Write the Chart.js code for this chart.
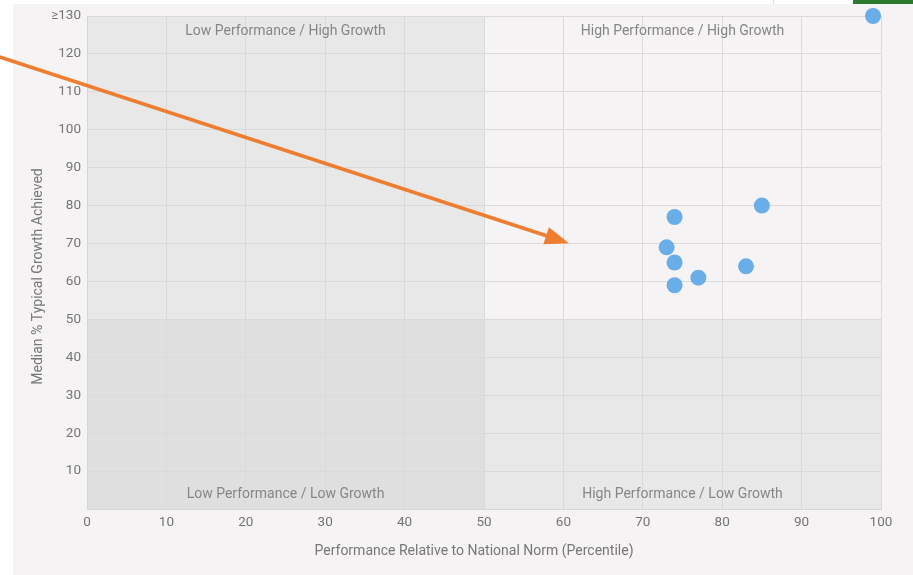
<!DOCTYPE html>
<html>
<head>
<meta charset="utf-8">
<script src="https://cdn.jsdelivr.net/npm/chart.js@4.4.1/dist/chart.umd.min.js"></script>
<style>
  html, body { margin: 0; padding: 0; background: #ffffff; }
  #wrap { position: relative; width: 913px; height: 575px; }
</style>
</head>
<body>
<div id="wrap"><canvas id="c" width="913" height="575"></canvas></div>
<script>
// ---- data ----
const performance = [99, 85, 74, 73, 74, 77, 83, 74];
const growth      = [130, 80, 77, 69, 65, 61, 64, 59];
const xTicks = [0, 10, 20, 30, 40, 50, 60, 70, 80, 90, 100];
const yTickLabels = { 130: '\u2265130' };
const quadrantLabels = [
  'Low Performance / High Growth',
  'High Performance / High Growth',
  'Low Performance / Low Growth',
  'High Performance / Low Growth'
];
const xTitle = 'Performance Relative to National Norm (Percentile)';
const yTitle = 'Median % Typical Growth Achieved';
const arrowFrom = [-11, 119.2];
const arrowTo = [60.7, 70.1];
const xSplit = 50;
const ySplit = 50;

const points = performance.map((x, i) => ({ x: x, y: growth[i] }));

const FONT = 'Roboto, "Liberation Sans", sans-serif';

const decor = {
  id: 'decor',
  beforeDraw(chart) {
    const ctx = chart.ctx;
    const xs = chart.scales.x, ys = chart.scales.y;
    const a = chart.chartArea;
    ctx.save();
    // panel
    ctx.fillStyle = '#f5f3f4';
    ctx.fillRect(13, 4, 900, 571);
    // top-right widgets
    ctx.fillStyle = '#ffffff';
    ctx.fillRect(773, 0, 80, 4);
    ctx.fillStyle = '#dddddd';
    ctx.fillRect(773, 0, 1, 4);
    ctx.fillStyle = '#2b7a2d';
    ctx.fillRect(853, 0, 60, 4);
    // quadrants
    const mx = xs.getPixelForValue(xSplit);
    const my = ys.getPixelForValue(ySplit);
    ctx.fillStyle = '#e8e8e8';
    ctx.fillRect(a.left, a.top, mx - a.left, my - a.top);
    ctx.fillStyle = '#f5f3f4';
    ctx.fillRect(mx, a.top, a.right - mx, my - a.top);
    ctx.fillStyle = '#dfdfdf';
    ctx.fillRect(a.left, my, mx - a.left, a.bottom - my);
    ctx.fillStyle = '#e8e8e8';
    ctx.fillRect(mx, my, a.right - mx, a.bottom - my);
    ctx.restore();
  },
  beforeDatasetsDraw(chart) {
    const ctx = chart.ctx;
    const xs = chart.scales.x;
    const a = chart.chartArea;
    const lx = xs.getPixelForValue(xSplit / 2);
    const rx = xs.getPixelForValue((xSplit + 100) / 2);
    ctx.save();
    ctx.font = '14px ' + FONT;
    ctx.fillStyle = '#868686';
    ctx.textAlign = 'center';
    ctx.textBaseline = 'middle';
    ctx.fillText(quadrantLabels[0], lx, a.top + 15);
    ctx.fillText(quadrantLabels[1], rx, a.top + 15);
    ctx.fillText(quadrantLabels[2], lx, a.bottom - 15);
    ctx.fillText(quadrantLabels[3], rx, a.bottom - 15);
    // axis titles
    ctx.font = '14px ' + FONT;
    ctx.fillStyle = '#777777';
    ctx.fillText(xTitle, (a.left + a.right) / 2 - 10, a.bottom + 42);
    ctx.translate(38, (a.top + a.bottom) / 2 + 14);
    ctx.rotate(-Math.PI / 2);
    ctx.fillText(yTitle, 0, 0);
    ctx.restore();
  },
  afterDraw(chart) {
    const ctx = chart.ctx;
    const xs = chart.scales.x, ys = chart.scales.y;
    const x0 = xs.getPixelForValue(arrowFrom[0]);
    const y0 = ys.getPixelForValue(arrowFrom[1]);
    const x1 = xs.getPixelForValue(arrowTo[0]);
    const y1 = ys.getPixelForValue(arrowTo[1]);
    const dx = x1 - x0, dy = y1 - y0;
    const len = Math.hypot(dx, dy);
    const ux = dx / len, uy = dy / len;
    const px = -uy, py = ux;
    const headLen = 24, headHalf = 9;
    const bx = x1 - ux * headLen, by = y1 - uy * headLen;
    ctx.save();
    ctx.strokeStyle = '#ee7d30';
    ctx.fillStyle = '#ee7d30';
    ctx.lineWidth = 3.6;
    ctx.beginPath();
    ctx.moveTo(x0, y0);
    ctx.lineTo(bx + ux * 2, by + uy * 2);
    ctx.stroke();
    ctx.beginPath();
    ctx.moveTo(x1, y1);
    ctx.lineTo(bx + px * headHalf, by + py * headHalf);
    ctx.lineTo(bx - px * headHalf, by - py * headHalf);
    ctx.closePath();
    ctx.fill();
    ctx.restore();
  }
};

new Chart(document.getElementById('c'), {
  type: 'scatter',
  data: {
    datasets: [{
      data: points,
      backgroundColor: '#6aaee9',
      borderColor: '#6aaee9',
      borderWidth: 0,
      pointRadius: 8,
      pointHoverRadius: 8,
      clip: false
    }]
  },
  options: {
    responsive: false,
    animation: false,
    events: [],
    layout: { padding: { left: 26, top: 16, right: 32, bottom: 12 } },
    plugins: { legend: { display: false }, tooltip: { enabled: false } },
    scales: {
      x: {
        type: 'linear',
        min: 0, max: 100,
        afterBuildTicks(scale) { scale.ticks = xTicks.map(v => ({ value: v })); },
        afterFit(scale) { scale.height = 54; },
        grid: { color: '#dadada', drawTicks: false },
        border: { color: '#d6d6d6' },
        ticks: { color: '#757575', font: { family: FONT, size: 13.5 }, padding: 6, maxRotation: 0 },
        title: { display: false }
      },
      y: {
        type: 'linear',
        min: 0, max: 130,
        afterFit(scale) { scale.width = 61; },
        grid: { color: '#dadada', drawTicks: false },
        border: { color: '#d6d6d6' },
        ticks: {
          stepSize: 10,
          color: '#757575',
          font: { family: FONT, size: 13.5 },
          padding: 6,
          callback(v) { return v === 0 ? '' : (yTickLabels[v] || String(v)); }
        },
        title: { display: false }
      }
    }
  },
  plugins: [decor]
});
</script>
</body>
</html>
